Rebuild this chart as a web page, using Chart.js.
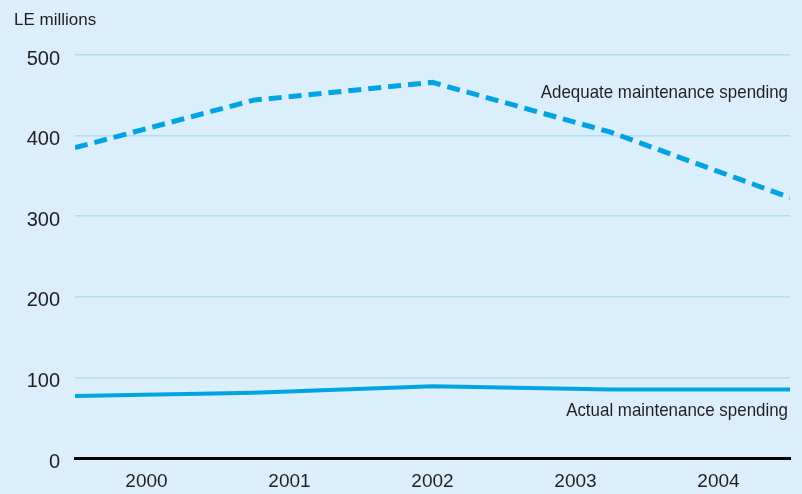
<!DOCTYPE html>
<html><head><meta charset="utf-8">
<script src="https://cdn.jsdelivr.net/npm/chart.js@4/dist/chart.umd.min.js"></script>
<style>html,body{margin:0;padding:0;background:#dbeefb}#wrap{width:802px;height:494px}</style>
</head><body><div id="wrap"><canvas id="c" width="802" height="494"></canvas></div>
<script>
const years = ['2000','2001','2002','2003','2004'];
const adequate = [385, 444, 466, 404, 323];
const actual = [77, 81, 89, 85, 85];
const yTicks = [0, 100, 200, 300, 400, 500];
const unitLabel = 'LE millions';
const seriesNames = ['Adequate maintenance spending', 'Actual maintenance spending'];
const labelValues = [453, 58];

const FONT = '"Liberation Sans", Arial, sans-serif';
const LINE = '#00a3e4';

function condensedText(ctx, txt, xRight, y, sx) {
  ctx.save();
  ctx.translate(xRight, y);
  ctx.scale(sx, 1);
  ctx.textAlign = 'right'; ctx.textBaseline = 'middle';
  ctx.fillText(txt, 0, 0);
  ctx.restore();
}

const textPlugin = {
  id: 'texts',
  afterDraw(chart) {
    const ctx = chart.ctx, a = chart.chartArea, y = chart.scales.y;
    ctx.save();
    ctx.fillStyle = '#231f20';
    ctx.font = '17px ' + FONT;
    ctx.textAlign = 'left'; ctx.textBaseline = 'middle';
    ctx.fillText(unitLabel, 14, 20);
    ctx.font = '19px ' + FONT;
    condensedText(ctx, seriesNames[0], a.right - 2, y.getPixelForValue(labelValues[0]), 0.89);
    condensedText(ctx, seriesNames[1], a.right - 2, y.getPixelForValue(labelValues[1]), 0.89);
    ctx.restore();
  }
};
const bgPlugin = {
  id: 'bg',
  beforeDraw(chart) {
    const ctx = chart.ctx;
    ctx.save(); ctx.fillStyle = '#dbeefb'; ctx.fillRect(0, 0, chart.width, chart.height); ctx.restore();
  }
};

new Chart(document.getElementById('c'), {
  type: 'line',
  data: {
    labels: years,
    datasets: [
      { label: seriesNames[0], data: adequate.map((v, i) => ({x: i, y: v})), xAxisID: 'x2',
        borderColor: LINE, borderWidth: 5, borderDash: [13, 7], borderCapStyle: 'butt',
        pointRadius: 0, tension: 0, fill: false },
      { label: seriesNames[1], data: actual.map((v, i) => ({x: i, y: v})), xAxisID: 'x2',
        borderColor: LINE, borderWidth: 4, pointRadius: 0, tension: 0, fill: false }
    ]
  },
  options: {
    responsive: false, animation: false, devicePixelRatio: 1,
    layout: { padding: { top: 55, right: 12, left: 0, bottom: 0 } },
    plugins: { legend: { display: false }, tooltip: { enabled: false } },
    scales: {
      x: { type: 'category', offset: true, position: 'bottom',
        grid: { display: false, drawTicks: false },
        border: { display: true, color: '#000', width: 3 },
        afterFit(s) { s.height = 36; },
        ticks: { color: '#231f20', font: { family: FONT, size: 19 }, padding: 12, maxRotation: 0 } },
      x2: { type: 'linear', min: 0, max: 4, display: false },
      y: { min: 0, max: 500,
        afterBuildTicks(s) { s.ticks = yTicks.map(v => ({value: v})); },
        afterFit(s) { s.width = 75; },
        grid: { color: '#b0dcf4', lineWidth: 1.5, drawTicks: false },
        border: { display: false },
        ticks: { color: '#231f20', font: { family: FONT, size: 20 }, padding: 15, labelOffset: 4 } }
    }
  },
  plugins: [bgPlugin, textPlugin]
});
</script></body></html>
